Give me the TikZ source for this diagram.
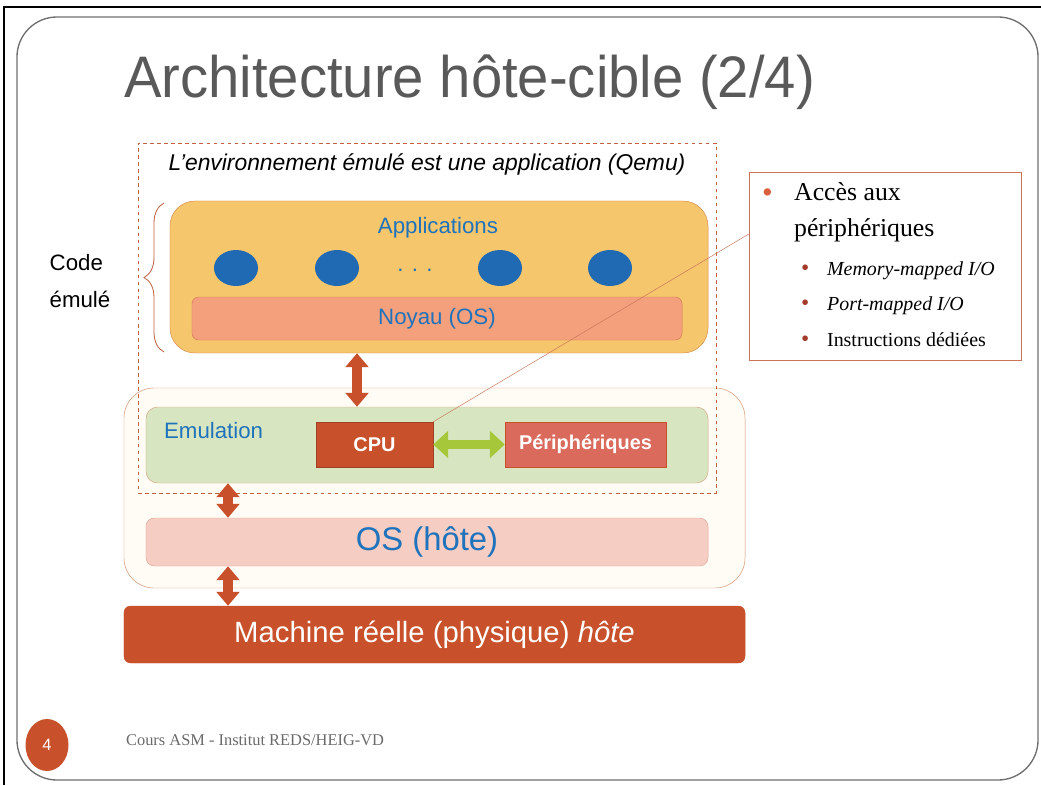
\documentclass[tikz,border=0pt]{standalone}
\usepackage{fontspec}
\setmainfont{Liberation Serif}
\setsansfont{Liberation Sans}
\newfontfamily\titlefont[FakeStretch=0.96]{Liberation Sans}
\usetikzlibrary{positioning,arrows.meta,decorations.pathreplacing,shapes.geometric}
\definecolor{titlegray}{HTML}{595959}
\definecolor{slidegray}{HTML}{6E6E6E}
\definecolor{dashred}{HTML}{C0603F}
\definecolor{txtblue}{HTML}{1F73BC}
\definecolor{appblue}{HTML}{1F6AB2}
\definecolor{appfill}{HTML}{F5C66C}
\definecolor{appborder}{HTML}{D98A4A}
\definecolor{noyaufill}{HTML}{F4A07C}
\definecolor{noyauborder}{HTML}{D47A58}
\definecolor{hostfill}{HTML}{FFFCF6}
\definecolor{hostborder}{HTML}{D8906A}
\definecolor{emulfill}{HTML}{D7E6C1}
\definecolor{emulborder}{HTML}{D9A585}
\definecolor{cpured}{HTML}{C8502A}
\definecolor{perred}{HTML}{D96A5C}
\definecolor{argreen}{HTML}{A6C73A}
\definecolor{osfill}{HTML}{F5CDC3}
\definecolor{osborder}{HTML}{E2A596}
\definecolor{callborder}{HTML}{C8755A}
\definecolor{bulorange}{HTML}{D9603A}
\definecolor{buldark}{HTML}{A33A2A}
\definecolor{footgray}{HTML}{6A6A6A}
\begin{document}
\begin{tikzpicture}[x=0.03cm,y=-0.03cm,
    lbl/.style={font=\sffamily\fontsize{19}{22}\selectfont,text=txtblue},
    layer/.style={draw,rounded corners=#1,inner sep=0pt},
    redarrow/.style={line width=0.28cm,draw=cpured,{Triangle[length=0.42cm,width=0.68cm]}-{Triangle[length=0.42cm,width=0.68cm]}},
    greenarrow/.style={line width=0.27cm,draw=argreen,{Triangle[length=0.45cm,width=0.8cm]}-{Triangle[length=0.45cm,width=0.8cm]}},
    app/.style={ellipse,fill=appblue,minimum width=1.32cm,minimum height=1.08cm,inner sep=0pt},
    unit/.style={minimum width=#1,minimum height=1.35cm,inner sep=0pt,text=white,font=\sffamily\bfseries\fontsize{17}{20}\selectfont},
    callout/.style={anchor=base west,font=\fontsize{#1}{#1}\selectfont}]
  \useasboundingbox (0,0) rectangle (1041,785);
  \draw[line width=0.06cm] (4,785) -- (4,7) -- (1041,7);
  \node[draw=slidegray,line width=0.04cm,rounded corners=1.2cm,minimum width=30.63cm,minimum height=22.89cm] (slide) at (527.5,398.5) {};
  \node[anchor=base west,text=titlegray,font=\titlefont\fontsize{50}{60}\selectfont] (title) at (120,97) {Architecture hôte-cible (2/4)};

  % host side
  \node[layer=0.9cm,draw=hostborder,fill=hostfill,minimum width=18.63cm,minimum height=6cm] (host) at (434.5,488) {};
  \node[draw=dashred,dashed,line width=0.6pt,minimum width=17.34cm,minimum height=10.5cm,inner sep=0pt] (emu) at (427,318) {};
  \node[anchor=base,font=\sffamily\itshape\fontsize{19.5}{22}\selectfont] (qemu) at (427,170) {L'environnement émulé est une application (Qemu)};

  % emulated code
  \node[layer=0.75cm,draw=appborder,fill=appfill,minimum width=16.14cm,minimum height=4.56cm] (apps) at (439,277) {};
  \node[lbl] (applbl) at (438,228) {Applications};
  \foreach \x/\n in {236/a1,337/a2,500/a3,610/a4}
    \node[app] (\n) at (\x,268) {};
  \node[lbl] (dots) at (415,270) {. . .};
  \node[layer=0.2cm,draw=noyauborder,fill=noyaufill,minimum width=14.7cm,minimum height=1.29cm,lbl] (noyau) at (437,318.5) {Noyau (OS)};
  \draw[decorate,decoration={brace,amplitude=0.6cm},draw=dashred,line width=0.7pt] (164,352) -- (164,203);
  \node[align=left,font=\sffamily\fontsize{19}{31}\selectfont] (code) at (80,281) {Code\\émulé};

  % emulation
  \node[layer=0.35cm,draw=emulborder,fill=emulfill,minimum width=16.86cm,minimum height=2.28cm] (emul) at (427,445) {};
  \node[lbl,anchor=base west] (emullbl) at (160,438) {Emulation};
  \node[unit=3.51cm,fill=cpured,draw=cpured!80!black] (cpu) at (374.5,444.5) {CPU};
  \node[unit=4.83cm,fill=perred,draw=cpured] (periph) at (585.5,444.5) {Périphériques};
  \node[layer=0.25cm,draw=osborder,fill=osfill,minimum width=16.86cm,minimum height=1.44cm,text=txtblue,font=\sffamily\fontsize{28}{32}\selectfont] (oshost) at (427,542) {OS (hôte)};
  \node[layer=0.2cm,draw=cpured,fill=cpured,minimum width=18.63cm,minimum height=1.71cm,text=white,font=\sffamily\fontsize{25}{30}\selectfont] (machine) at (434.5,634.5) {Machine réelle (physique) \textit{hôte}};

  \coordinate (c1) at (357,0);
  \coordinate (c2) at (228,0);
  \draw[redarrow] (apps.south -| c1) -- (emul.north -| c1);
  \draw[redarrow] (emul.south -| c2) -- (oshost.north -| c2);
  \draw[redarrow] (oshost.south -| c2) -- (machine.north -| c2);
  \draw[greenarrow] (cpu.east) -- (periph.west);

  % callout
  \node[draw=callborder,fill=white,minimum width=8.16cm,minimum height=5.64cm] (callout) at (885,266) {};
  \draw[callborder] (cpu.north east) -- ([yshift=0.96cm]callout.west);
  \node[callout=26,text=bulorange] (b0) at (758,202) {•};
  \node[callout=22] (acces) at (790,200) {Accès aux};
  \node[callout=22] (periphs) at (790,236) {périphériques};
  \foreach \y/\n in {275/b1,310/b2,346/b3}
    \node[callout=20,text=buldark] (\n) at (797,\y) {•};
  \node[callout=17] (mmio) at (823,275) {\itshape Memory-mapped I/O};
  \node[callout=17] (pmio) at (823,310) {\itshape Port-mapped I/O};
  \node[callout=17] (instr) at (823,346) {Instructions dédiées};

  % footer
  \node[ellipse,fill=cpured,minimum width=1.29cm,minimum height=1.56cm,text=white,font=\sffamily\fontsize{14}{16}\selectfont] (pagenum) at (47,745) {4};
  \node[anchor=base west,text=footgray,font=\fontsize{14}{16}\selectfont] (footer) at (122,745) {Cours ASM - Institut REDS/HEIG-VD};
\end{tikzpicture}
\end{document}
